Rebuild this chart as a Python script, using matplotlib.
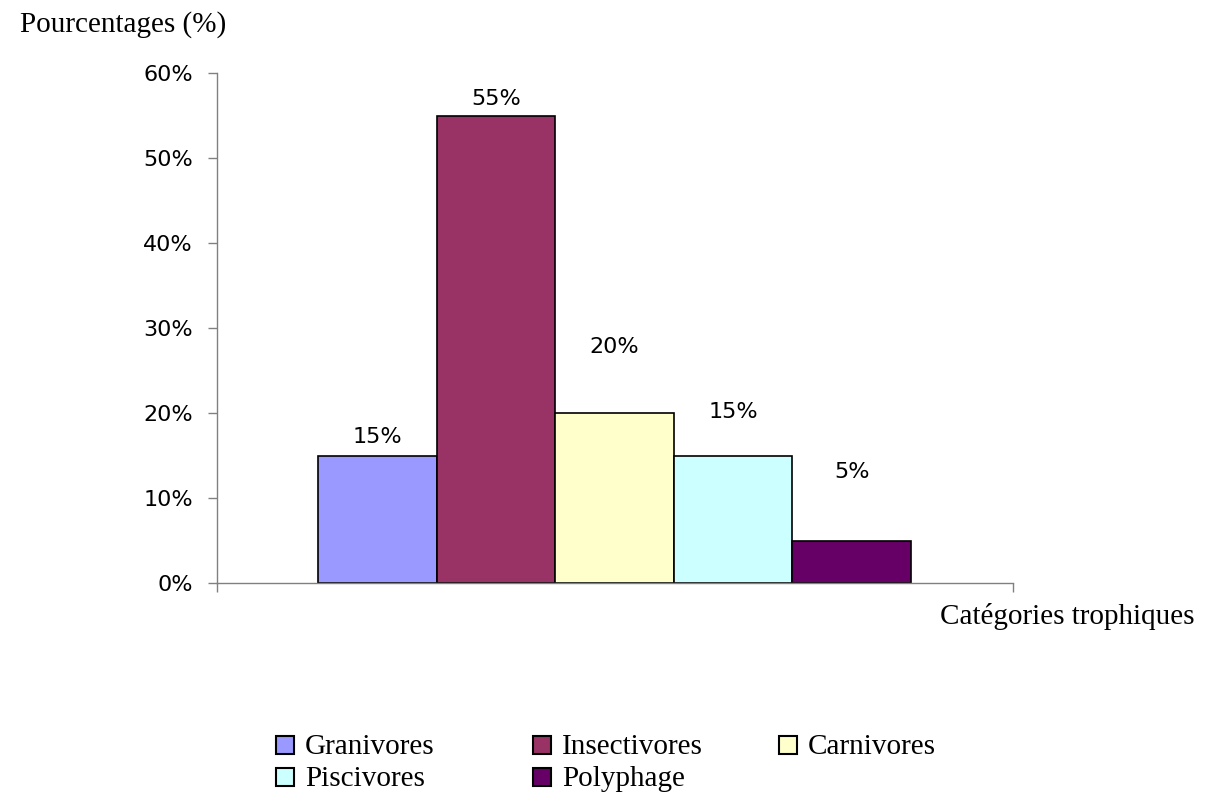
import matplotlib.pyplot as plt
from matplotlib.patches import Rectangle

# Répartition des espèces par catégorie trophique
categories = ["Granivores", "Insectivores", "Carnivores", "Piscivores", "Polyphage"]
pourcentages = [15, 55, 20, 15, 5]
couleurs = ["#9999FF", "#993366", "#FFFFCC", "#CCFFFF", "#660066"]
yticks = [0, 10, 20, 30, 40, 50, 60]

# décalage vertical des étiquettes (en points de %)
decalages = [2.2, 1.9, 7.8, 5.1, 8.1]

W, H = 1211, 794
fig = plt.figure(figsize=(W / 100, H / 100), dpi=100)
ax = fig.add_axes([217 / W, 1 - 583 / H, 796 / W, 510 / H])

x = range(len(categories))
ax.bar(x, pourcentages, width=1.0, color=couleurs, edgecolor="black", linewidth=1.2)

for xi, v, d in zip(x, pourcentages, decalages):
    ax.text(xi, v + d, f"{v}%", ha="center", va="center",
            fontsize=16, family="DejaVu Sans")

ax.set_xlim(-1.351, 5.36)
ax.set_ylim(0, 60)
ax.set_yticks(yticks)
ax.set_yticklabels([f"{t}%" for t in yticks], fontsize=16, family="DejaVu Sans")
ax.set_xticks([-1.351, 5.36])
ax.set_xticklabels([])
ax.tick_params(axis="both", direction="out", length=6.5, width=1, color="#808080")
ax.tick_params(axis="y", pad=11)

for side in ["top", "right"]:
    ax.spines[side].set_visible(False)
for side in ["left", "bottom"]:
    ax.spines[side].set_color("#808080")
    ax.spines[side].set_linewidth(1)

fig.text(20 / W, 1 - 25 / H, "Pourcentages (%)", ha="left", va="center",
         fontsize=21, family="Liberation Serif")
fig.text(1195 / W, 1 - 617 / H, "Catégories trophiques", ha="right", va="center",
         fontsize=21, family="Liberation Serif")

# légende placée à la main : trois colonnes, remplie ligne par ligne
col_x = [276, 533, 779]
ligne_base = [754, 786]
for i, (nom, c) in enumerate(zip(categories, couleurs)):
    cx = col_x[i % 3]
    by = ligne_base[i // 3]
    fig.patches.append(Rectangle((cx / W, 1 - by / H), 18 / W, 18 / H,
                                 transform=fig.transFigure, facecolor=c,
                                 edgecolor="black", linewidth=1.5))
    fig.text((cx + 29) / W, 1 - by / H, nom, ha="left", va="baseline",
             fontsize=21, family="Liberation Serif")

fig.savefig("out.png", dpi=100)
